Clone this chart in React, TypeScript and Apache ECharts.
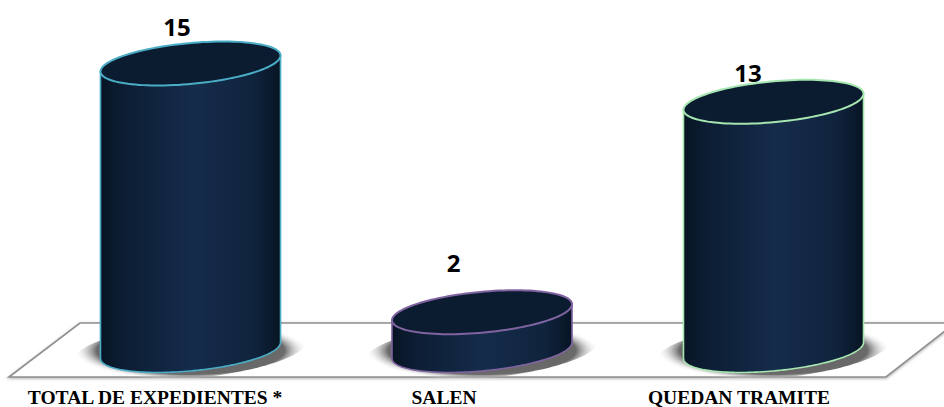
import React, { useEffect, useRef } from "react";
import * as echarts from "echarts";

const categories = ["TOTAL DE EXPEDIENTES *", "SALEN", "QUEDAN TRAMITE"];
const values = [15, 2, 13];
const edgeColors = ["#4bacc6", "#8064a2", "#a6e6b0"];
const labelOffsets = [[-13.5, -37.5], [-28.5, -49.5], [-25.5, -29.5]];
const axisLabelShift = [71, 76, 69];

const A = 90.4;
const B = 20.4;
const TILT = (5.35 * Math.PI) / 180;

function ellipsePoint(cx: number, cy: number, a: number, b: number, t: number): number[] {
  return [
    cx + a * Math.cos(t) * Math.cos(TILT) + b * Math.sin(t) * Math.sin(TILT),
    cy - a * Math.cos(t) * Math.sin(TILT) + b * Math.sin(t) * Math.cos(TILT),
  ];
}

function bodyPoints(top: number[], base: number[]): number[][] {
  const t0 = Math.atan2(B * Math.sin(TILT), A * Math.cos(TILT));
  const pts: number[][] = [ellipsePoint(top[0], top[1], A, B, t0)];
  for (let i = 0; i <= 80; i++) {
    pts.push(ellipsePoint(base[0], base[1], A, B, t0 + (Math.PI * i) / 80));
  }
  pts.push(ellipsePoint(top[0], top[1], A, B, t0 + Math.PI));
  return pts;
}

function ellipsePoints(cx: number, cy: number, a: number, b: number): number[][] {
  const pts: number[][] = [];
  for (let i = 0; i < 120; i++) pts.push(ellipsePoint(cx, cy, a, b, (i / 120) * Math.PI * 2));
  return pts;
}

const renderCylinder = (params: any, api: any) => {
  const i = params.dataIndex;
  const top = api.coord([api.value(0), api.value(1)]);
  const base = api.coord([api.value(0), 0]);
  const edge = edgeColors[i];
  const side = new echarts.graphic.LinearGradient(0, 0, 1, 0, [
    { offset: 0, color: "#081424" },
    { offset: 0.12, color: "#0c1d33" },
    { offset: 0.52, color: "#152c4b" },
    { offset: 0.85, color: "#0f233c" },
    { offset: 1, color: "#081424" },
  ]);
  const shade = new echarts.graphic.RadialGradient(0.5, 0.5, 0.5, [
    { offset: 0, color: "#5f5f5f" },
    { offset: 0.8, color: "#6a6a6a" },
    { offset: 1, color: "rgba(255,255,255,0)" },
  ]);
  return {
    type: "group",
    children: [
      {
        type: "polygon",
        shape: { points: ellipsePoints(base[0], base[1], 118, 28) },
        style: { fill: shade },
      },
      {
        type: "polygon",
        shape: { points: bodyPoints(top, base) },
        style: { fill: side, stroke: edge, lineWidth: 1.6 },
      },
      {
        type: "polygon",
        shape: { points: ellipsePoints(top[0], top[1], A, B) },
        style: { fill: "#0b1b30", stroke: edge, lineWidth: 2 },
      },
      {
        type: "text",
        x: top[0] + labelOffsets[i][0],
        y: top[1] + labelOffsets[i][1],
        style: {
          text: String(values[i]),
          fill: "#000000",
          font: 'bold 24px "Open Sans"',
          align: "center",
          verticalAlign: "middle",
        },
      },
    ],
  };
};

export default function App() {
  const ref = useRef<HTMLDivElement>(null);
  useEffect(() => {
    document.body.style.margin = "0";
    const chart = echarts.init(ref.current!, null, { renderer: "svg" });
    const rich: Record<string, any> = {};
    axisLabelShift.forEach((s, i) => {
      rich["c" + i] = {
        padding: [0, s, 0, 0],
        fontFamily: '"Liberation Serif"',
        fontWeight: "bold",
        fontSize: 19.5,
        lineHeight: 14,
        color: "#000000",
      };
    });
    chart.setOption({
      animation: false,
      backgroundColor: "#ffffff",
      grid: { left: 44.75, width: 874.5, top: 63.5, height: 287, outerBoundsMode: "none" },
      xAxis: {
        type: "category",
        data: categories,
        axisLine: { show: false },
        axisTick: { show: false },
        axisLabel: {
          interval: 0,
          margin: 39.5,
          lineHeight: 14,
          formatter: (v: string, i: number) => `{c${i}|${v}}`,
          rich,
        },
      },
      yAxis: { type: "value", min: 0, max: 15, show: false, splitLine: { show: false } },
      graphic: [
        {
          type: "polygon",
          z: 0,
          shape: { points: [[80, 323], [955, 323], [886, 377], [9, 377]] },
          style: {
            fill: "#ffffff",
            stroke: "#8f8f8f",
            lineWidth: 1.6,
            shadowBlur: 3,
            shadowColor: "#b0b0b0",
            shadowOffsetY: 1,
          },
        },
      ],
      series: [
        {
          type: "custom",
          clip: false,
          z: 5,
          renderItem: renderCylinder,
          encode: { x: 0, y: 1 },
          data: categories.map((_, i) => [i, values[i]]),
        },
      ],
    });
    return () => chart.dispose();
  }, []);
  return <div ref={ref} style={{ width: 944, height: 407 }} />;
}
